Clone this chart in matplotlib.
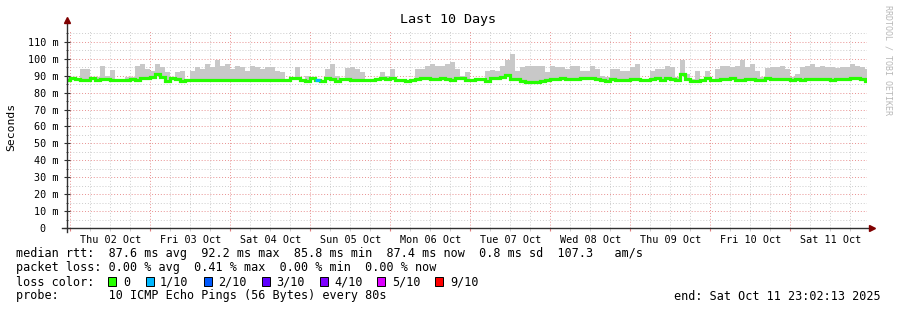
import matplotlib
matplotlib.use("Agg")
import matplotlib.pyplot as plt
import numpy as np
from matplotlib.patches import Rectangle
from matplotlib.lines import Line2D

# ---------------- data ----------------
start_offset_h = -0.963   # Oct 01 23:02:13 relative to Oct 02 00:00
step_h = 1.5              # one value every 1.5 h

median_ms = [
    87.3, 88.6, 88.3, 87.4, 87.6, 88.5, 87.3, 87.8, 87.8, 87.6,
    87.2, 87.2, 87.4, 88.3, 87.2, 88.4, 88.6, 89.2, 91.0, 89.0,
    87.0, 88.5, 88.3, 87.0, 87.6, 87.3, 87.3, 87.3, 87.3, 87.3,
    87.3, 87.3, 87.3, 87.3, 87.3, 87.3, 87.3, 87.3, 87.3, 87.3,
    87.3, 87.2, 87.2, 87.2, 87.2, 88.4, 88.6, 87.5, 87.0, 88.8,
    87.6, 86.9, 88.4, 88.0, 87.0, 88.0, 88.0, 87.6, 87.4, 87.4,
    87.4, 87.4, 87.8, 88.6, 88.0, 88.6, 87.4, 87.2, 86.9, 87.2,
    88.0, 88.4, 88.4, 88.0, 88.0, 88.6, 88.2, 87.6, 88.4, 88.4,
    87.2, 87.4, 87.8, 87.8, 87.0, 88.6, 88.6, 89.0, 90.2, 88.2,
    88.0, 86.6, 86.2, 86.2, 86.2, 86.6, 87.2, 87.8, 88.0, 88.6,
    88.0, 87.8, 87.8, 88.6, 88.6, 88.4, 88.0, 87.4, 87.0, 87.8,
    87.6, 87.2, 87.2, 88.2, 88.0, 87.4, 87.4, 88.2, 88.4, 87.6,
    88.4, 88.2, 87.4, 91.0, 88.0, 87.0, 87.0, 87.4, 88.6, 87.6,
    87.6, 87.8, 87.8, 88.6, 87.6, 87.6, 87.8, 87.8, 87.6, 87.6,
    88.6, 87.8, 88.0, 88.0, 88.0, 87.2, 88.0, 87.2, 88.0, 88.2,
    88.2, 88.2, 88.2, 87.6, 88.0, 88.2, 88.2, 88.8, 88.8, 88.0,
    87.0,
]

smoke_max_ms = [
    89.0, 88.6, 88.3, 94.0, 93.8, 89.5, 89.0, 96.0, 90.0, 93.5,
    87.2, 87.2, 89.5, 89.0, 96.0, 97.0, 94.0, 93.0, 97.0, 95.0,
    92.0, 89.0, 92.0, 93.0, 88.0, 93.0, 95.0, 94.0, 97.0, 95.0,
    99.0, 96.0, 97.0, 94.0, 96.0, 95.0, 93.0, 96.0, 95.0, 94.0,
    95.0, 95.0, 93.0, 92.0, 87.2, 89.0, 95.0, 88.0, 90.0, 89.0,
    87.6, 87.0, 94.0, 97.0, 90.0, 88.0, 94.5, 95.0, 94.0, 92.0,
    87.4, 87.4, 88.5, 92.0, 90.0, 94.0, 88.0, 87.2, 87.0, 88.0,
    94.0, 94.0, 96.0, 97.0, 95.5, 96.0, 97.0, 98.0, 94.0, 90.0,
    92.0, 88.0, 88.0, 88.0, 93.0, 93.5, 93.0, 96.0, 99.0, 103.0,
    93.0, 95.0, 96.0, 96.0, 95.5, 96.0, 92.0, 96.0, 95.0, 95.0,
    94.0, 96.0, 96.0, 93.0, 93.0, 96.0, 94.0, 90.0, 89.0, 94.0,
    94.0, 93.0, 93.0, 95.0, 97.0, 88.0, 88.0, 93.0, 94.0, 94.0,
    96.0, 95.0, 89.0, 99.0, 91.0, 88.0, 93.0, 88.0, 93.0, 88.0,
    94.0, 96.0, 96.0, 95.0, 96.0, 99.0, 95.0, 97.0, 93.0, 89.0,
    94.5, 95.0, 95.0, 96.0, 94.0, 89.0, 91.0, 95.0, 96.0, 97.0,
    95.0, 96.0, 95.0, 95.0, 94.5, 95.0, 95.0, 97.0, 96.0, 95.0,
    94.0,
]

loss_tenths = [0] * 161
loss_tenths[50] = 1

day_labels = ["Thu 02 Oct", "Fri 03 Oct", "Sat 04 Oct", "Sun 05 Oct", "Mon 06 Oct",
              "Tue 07 Oct", "Wed 08 Oct", "Thu 09 Oct", "Fri 10 Oct", "Sat 11 Oct"]
ytick_vals_ms = [0, 10, 20, 30, 40, 50, 60, 70, 80, 90, 100, 110]

loss_levels = ["0", "1/10", "2/10", "3/10", "4/10", "5/10", "9/10"]
loss_colors = ["#26ff00", "#00b8ff", "#0059ff", "#5e00ff", "#7e00ff", "#dd00ff", "#ff0000"]

stats_line1 = "median rtt:  87.6 ms avg  92.2 ms max  85.8 ms min  87.4 ms now  0.8 ms sd  107.3   am/s"
stats_line2 = "packet loss: 0.00 % avg  0.41 % max  0.00 % min  0.00 % now"
probe_line = "probe:       10 ICMP Echo Pings (56 Bytes) every 80s"
end_line = "end: Sat Oct 11 23:02:13 2025"

# ---------------- figure ----------------
W, H = 897, 310
fig = plt.figure(figsize=(W / 100, H / 100), dpi=100)
fig.patch.set_facecolor("white")

def fx(x):
    return x / W

def fy(y):
    return 1 - y / H

ax = fig.add_axes([fx(67), fy(228), 800 / W, 198 / H])
ax.set_facecolor("white")

n = len(median_ms)
t = start_offset_h + step_h * np.arange(n)
med = np.array(median_ms) / 1000.0
smk = np.array(smoke_max_ms) / 1000.0

ax.set_xlim(start_offset_h, start_offset_h + 240)
ax.set_ylim(0, 0.117)

# grid
mono = "DejaVu Sans Mono"
major_x = np.arange(0, 240, 24)
minor_x = np.arange(0, 240, 6)
for xv in minor_x:
    if xv % 24 != 0:
        ax.axvline(xv, color="#cccccc", lw=0.7, ls=(0, (1, 2)), zorder=0)
for yv in np.arange(0.005, 0.117, 0.01):
    ax.axhline(yv, color="#cccccc", lw=0.7, ls=(0, (1, 2)), zorder=0)
for xv in major_x:
    ax.axvline(xv, color="#e89090", lw=0.7, ls=(0, (1, 2)), zorder=0)
for yv in ytick_vals_ms[1:]:
    ax.axhline(yv / 1000.0, color="#e89090", lw=0.7, ls=(0, (1, 2)), zorder=0)

# smoke
ax.fill_between(t, med, np.maximum(smk, med), step="mid", color="#c8c8c8", lw=0, zorder=2)

# median line colored by loss
ax.plot(t, med, drawstyle="steps-mid", color=loss_colors[0], lw=2.3, zorder=3,
        solid_joinstyle="miter")
for i, lv in enumerate(loss_tenths):
    if lv > 0:
        ax.plot([t[i] - step_h / 2, t[i] + step_h / 2], [med[i], med[i]],
                color=loss_colors[min(lv, 6)], lw=2.3, zorder=4, solid_capstyle="butt")

# axes spines
for s in ax.spines.values():
    s.set_visible(False)
ax.add_line(Line2D([0, 0], [-0.02, 1.04], transform=ax.transAxes, color="#303030",
                   lw=1.0, clip_on=False, zorder=5))
ax.add_line(Line2D([-0.006, 1.004], [0, 0], transform=ax.transAxes, color="#303030",
                   lw=1.0, clip_on=False, zorder=5))
ax.plot([0], [1.05], marker="^", color="#800000", ms=4.5, transform=ax.transAxes,
        clip_on=False, zorder=6)
ax.plot([1.006], [0], marker=">", color="#800000", ms=4.5, transform=ax.transAxes,
        clip_on=False, zorder=6)

# ticks
ax.set_yticks([v / 1000.0 for v in ytick_vals_ms])
ax.set_yticklabels(["0  " if v == 0 else f"{v} m" for v in ytick_vals_ms],
                   fontfamily=mono, fontsize=7.3)
ax.set_yticks(np.arange(0.005, 0.117, 0.01), minor=True)
ax.tick_params(axis="y", which="major", direction="inout", length=4, width=0.8,
               color="#303030", pad=4)
ax.tick_params(axis="y", which="minor", direction="inout", length=2, width=0.6,
               color="#303030")
ax.set_xticks(major_x)
ax.set_xticklabels([])
ax.set_xticks(minor_x, minor=True)
ax.tick_params(axis="x", which="major", direction="out", length=2.5, width=0.8,
               color="#e08080")
ax.tick_params(axis="x", which="minor", direction="out", length=2, width=0.6,
               color="#c8c8c8")
for k, lab in enumerate(day_labels):
    ax.text(12 + 24 * k, -0.0068, lab, ha="center", va="center", fontfamily=mono,
            fontsize=7.3, color="#000000")

# title and labels
fig.text(fx(448), fy(20), "Last 10 Days", ha="center", va="center", fontfamily=mono,
         fontsize=9.6)
fig.text(fx(11), fy(127), "Seconds", ha="center", va="center", rotation=90,
         fontfamily=mono, fontsize=8.2)
fig.text(fx(888), fy(60), "RRDTOOL / TOBI OETIKER", ha="center", va="center",
         rotation=-90, fontfamily=mono, fontsize=6, color="#b8b8b8")

# legend
fs = 8.5
fig.text(fx(16), fy(254), stats_line1, ha="left", va="center", fontfamily=mono, fontsize=fs)
fig.text(fx(16), fy(268), stats_line2, ha="left", va="center", fontfamily=mono, fontsize=fs)
fig.text(fx(16), fy(282), "loss color:", ha="left", va="center", fontfamily=mono, fontsize=fs)
fig.text(fx(16), fy(296), probe_line, ha="left", va="center", fontfamily=mono, fontsize=fs)
fig.text(fx(881), fy(296), end_line, ha="right", va="center", fontfamily=mono, fontsize=fs)

box_x = [108, 146, 204, 262, 320, 377, 435]
text_x = [123, 160, 218, 276, 334, 392, 450]
for bx, tx, lab, col in zip(box_x, text_x, loss_levels, loss_colors):
    fig.patches.append(Rectangle((fx(bx), fy(286)), 8 / W, 9 / H, transform=fig.transFigure,
                                 facecolor=col, edgecolor="#000000", lw=0.7))
    fig.text(fx(tx), fy(282), lab, ha="left", va="center", fontfamily=mono, fontsize=fs)

fig.savefig("out.png", dpi=100, facecolor="white")
